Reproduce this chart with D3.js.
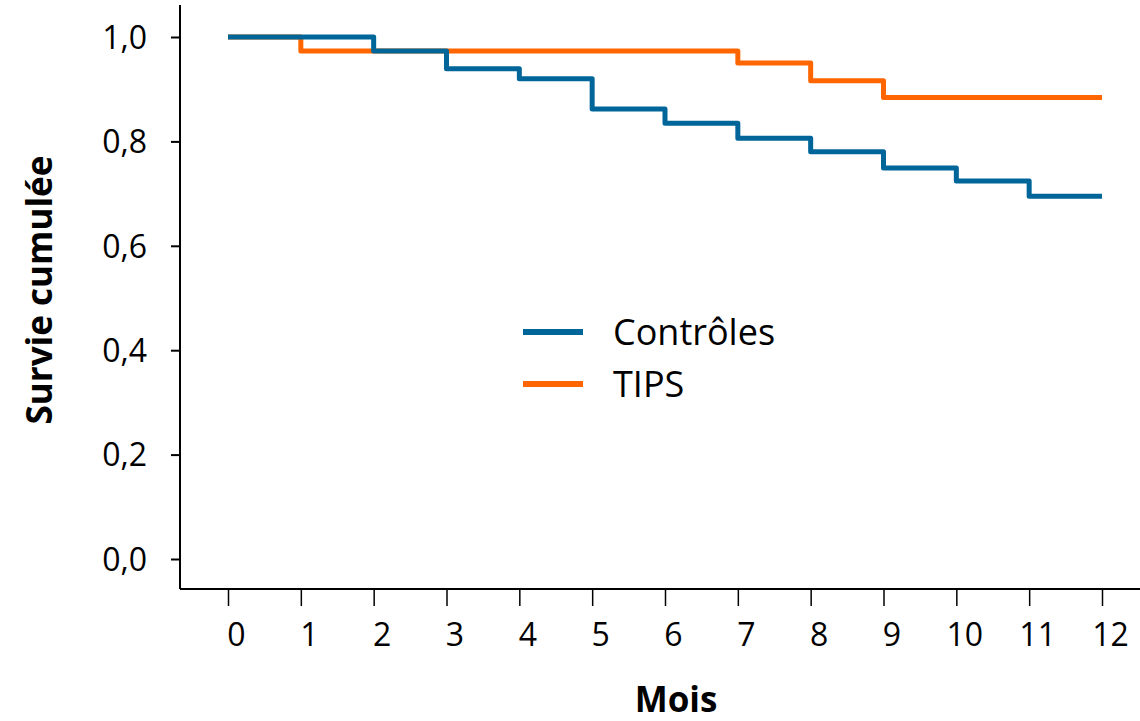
<!DOCTYPE html>
<html>
<head>
<meta charset="utf-8">
<script src="https://d3js.org/d3.v7.min.js"></script>
<style>
  body { margin: 0; background: #fff; }
  svg text { font-family: "Open Sans", sans-serif; fill: #000; }
</style>
</head>
<body>
<div id="chart"></div>
<script>
// data
var months = [0, 1, 2, 3, 4, 5, 6, 7, 8, 9, 10, 11, 12];
var yTicks = [0, 0.2, 0.4, 0.6, 0.8, 1.0];

var controlesTimes = [0, 2, 3, 4, 5, 6, 7, 8, 9, 10, 11, 12];
var controlesSurv  = [1.0, 0.973, 0.939, 0.920, 0.862, 0.835, 0.806, 0.780, 0.749, 0.724, 0.695, 0.695];

var tipsTimes = [0, 1, 7, 8, 9, 12];
var tipsSurv  = [1.0, 0.973, 0.950, 0.916, 0.884, 0.884];

var series = [
  {name: "TIPS", color: "#FF6600", t: tipsTimes, s: tipsSurv},
  {name: "Contrôles", color: "#006699", t: controlesTimes, s: controlesSurv}
];

var width = 1140, height = 721;

var svg = d3.select("#chart")
  .append("svg")
    .attr("width", width)
    .attr("height", height);

var x = d3.scaleLinear().domain([0, 12]).range([228, 1102]);
var y = d3.scaleLinear().domain([0, 1]).range([559, 37]);

var axisX = 180, axisY = 589;

// axis lines
svg.append("line")
  .attr("x1", axisX).attr("x2", axisX)
  .attr("y1", 5).attr("y2", axisY)
  .attr("stroke", "#000").attr("stroke-width", 2);
svg.append("line")
  .attr("x1", axisX).attr("x2", 1140)
  .attr("y1", axisY).attr("y2", axisY)
  .attr("stroke", "#000").attr("stroke-width", 2);

// y axis
var gy = svg.append("g")
  .attr("transform", "translate(" + axisX + ",0)")
  .call(d3.axisLeft(y).tickValues(yTicks).tickSize(9).tickPadding(24)
    .tickFormat(function(d) { return d3.format(".1f")(d).replace(".", ","); }));
gy.select(".domain").remove();
gy.selectAll(".tick line").attr("stroke", "#000").attr("stroke-width", 2);
gy.selectAll(".tick text").style("font-size", "32px").attr("dy", "0.35em");

// x axis
var gx = svg.append("g")
  .attr("transform", "translate(0," + axisY + ")")
  .call(d3.axisBottom(x).tickValues(months).tickSize(17).tickPadding(17)
    .tickFormat(d3.format("d")));
gx.select(".domain").remove();
gx.selectAll(".tick line").attr("stroke", "#000").attr("stroke-width", 1.5);
gx.selectAll(".tick text").style("font-size", "32px").attr("dx", 8);

// axis titles
svg.append("text")
  .attr("transform", "translate(52,290) rotate(-90)")
  .attr("text-anchor", "middle")
  .style("font-size", "35px").style("font-weight", "bold")
  .text("Survie cumulée");

svg.append("text")
  .attr("x", 676).attr("y", 712)
  .attr("text-anchor", "middle")
  .style("font-size", "35px").style("font-weight", "bold")
  .text("Mois");

// survival curves
var line = d3.line()
  .x(function(d) { return x(d[0]); })
  .y(function(d) { return y(d[1]); })
  .curve(d3.curveStepAfter);

series.forEach(function(sr) {
  var pts = sr.t.map(function(t, i) { return [t, sr.s[i]]; });
  svg.append("path")
    .datum(pts)
    .attr("d", line)
    .attr("fill", "none")
    .attr("stroke", sr.color)
    .attr("stroke-width", 5)
    .attr("stroke-linejoin", "round");
});

// legend
var legendItems = [series[1], series[0]];
var lg = svg.append("g").attr("transform", "translate(523,332)");
legendItems.forEach(function(sr, i) {
  lg.append("line")
    .attr("x1", 0).attr("x2", 60)
    .attr("y1", i * 52).attr("y2", i * 52)
    .attr("stroke", sr.color).attr("stroke-width", 6);
  lg.append("text")
    .attr("x", 90).attr("y", i * 52)
    .attr("dy", "0.36em")
    .style("font-size", "36px")
    .text(sr.name);
});
</script>
</body>
</html>
